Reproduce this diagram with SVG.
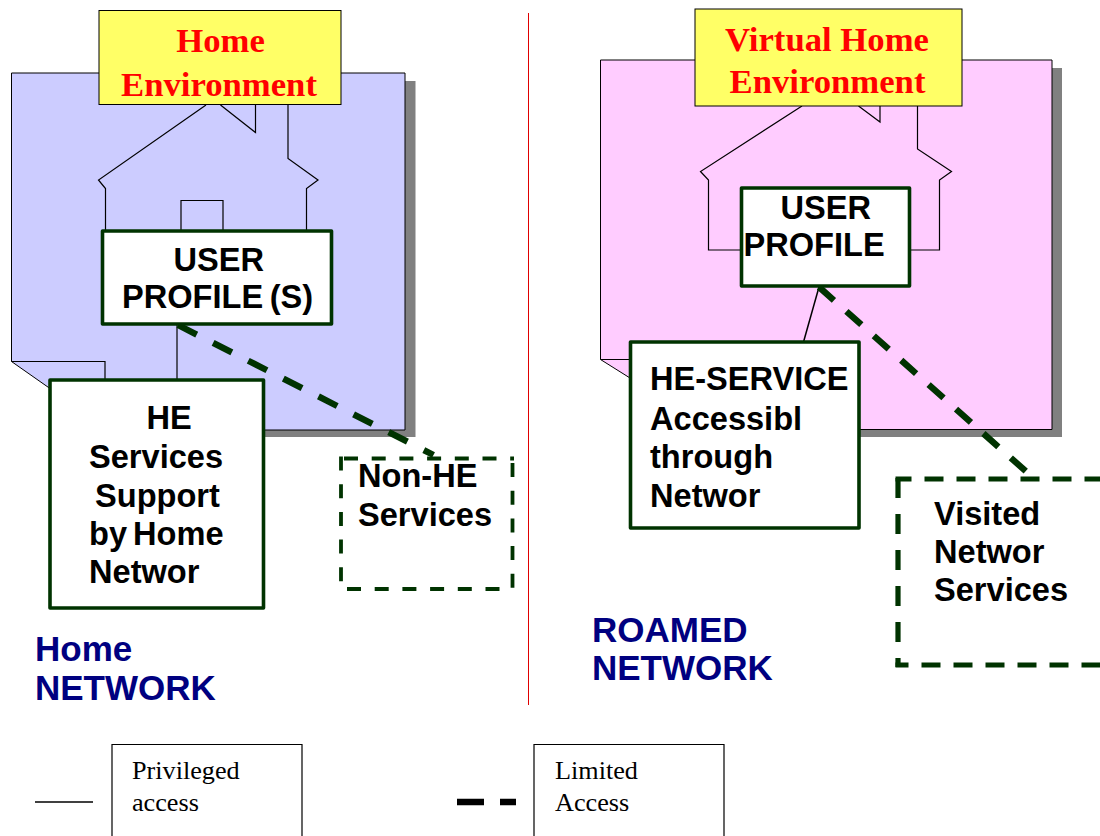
<svg xmlns="http://www.w3.org/2000/svg" width="1100" height="836" viewBox="0 0 1100 836">
<style>
.sheet{stroke:#000;stroke-width:1}
.shadow{fill:#808080}
.thin{fill:none;stroke:#000;stroke-width:1.2}
.env{fill:#ffff66;stroke:#000;stroke-width:1}
.envt{font-family:"Liberation Serif",serif;font-weight:700;font-size:34.7px;fill:#f00;text-anchor:middle}
.box{fill:#fff;stroke:#003300;stroke-width:3.6;stroke-linejoin:round}
.nd{fill:none;stroke:#003300;stroke-width:3.8}
.vd{fill:none;stroke:#003300;stroke-width:5.2}
.t{font-family:"Liberation Sans",sans-serif;font-weight:700;font-size:32.6px;fill:#000}
.net{font-family:"Liberation Sans",sans-serif;font-weight:700;font-size:35px;fill:#000080}
.leg{fill:#fff;stroke:#000;stroke-width:1.2}
.legt{font-family:"Liberation Serif",serif;font-size:26.2px;fill:#000}
.limited{fill:none;stroke:#003300;stroke-width:6.4}
</style>
<g id="home-sheet">
<path class="shadow" d="M405 81H415.500V437H264V430H405Z"/>
<path class="sheet" fill="#ccccff" d="M11.500 73H405V430H100V380H50V388.500L11.500 361.500Z"/>
<path class="thin" d="M11.500 361.500H105V380M206 105L98.500 180L105.500 188.500V231M220.500 105L255.500 132.500V105M288 105V158.500L318 180L306.500 188.500V231M181 231V200.500H223V231"/>
</g>
<g id="roamed-sheet">
<path class="shadow" d="M1052 68H1062V437H860V430H1052Z"/>
<path class="sheet" fill="#ffccff" d="M600.500 60H1052V429.500H700V342H630V378L600.500 359.500Z"/>
<path class="thin" d="M600.500 359.500H630M802 106L700.500 171.500L708.500 180V250H741M858.500 106L880 122V106M917.500 106V149L951.500 171.500L939.500 180V250H910"/>
</g>
<line id="divider" x1="528.500" y1="13" x2="528.500" y2="705" stroke="#e00000" stroke-width="1"/>
<g id="connectors">
<path fill="none" stroke="#000" stroke-width="1.200" d="M177 325V380"/>
<path fill="none" stroke="#000" stroke-width="1.500" d="M819 287L803.500 342"/>
<path class="limited" stroke-dasharray="21 18.400" d="M178 325L433.500 455"/>
<path class="limited" stroke-dasharray="20 16.700" d="M819 287L1030 475"/>
</g>
<g id="home-environment"><rect class="env" x="99" y="10.500" width="242" height="94"/><text class="envt"><tspan x="220.500" y="52">Home</tspan><tspan x="219" y="96">Environment</tspan></text></g>
<g id="virtual-home-environment"><rect class="env" x="695" y="9" width="267" height="97"/><text class="envt"><tspan x="827" y="51">Virtual Home</tspan><tspan x="827.500" y="93">Environment</tspan></text></g>
<g id="user-profile-home"><rect class="box" x="102.500" y="231" width="229" height="93"/><text class="t"><tspan x="173.500" y="271">USER</tspan><tspan x="122" y="308" word-spacing="-2.500">PROFILE (S)</tspan></text></g>
<g id="user-profile-roamed"><rect class="box" x="741.500" y="188" width="168" height="98"/><text class="t"><tspan x="780.500" y="219">USER</tspan><tspan x="743.500" y="256">PROFILE</tspan></text></g>
<g id="he-services"><rect class="box" x="50" y="380" width="213.500" height="228"/><text class="t"><tspan x="146.500" y="429">HE</tspan><tspan x="89" y="468">Services</tspan><tspan x="95" y="507">Support</tspan><tspan x="89" y="545" word-spacing="-3">by Home</tspan><tspan x="89" y="583">Networ</tspan></text></g>
<g id="he-service-accessible"><rect class="box" x="630.500" y="342" width="228.500" height="186"/><text class="t"><tspan x="650" y="390">HE-SERVICE</tspan><tspan x="650" y="430">Accessibl</tspan><tspan x="650" y="468">through</tspan><tspan x="650" y="507">Networ</tspan></text></g>
<g id="non-he-services"><path class="nd" stroke-dasharray="14 13.700" d="M344 458.500H514M341 456.500V590M347 589H513M512.500 463V589"/><text class="t"><tspan x="358" y="487">Non-HE</tspan><tspan x="358" y="526">Services</tspan></text></g>
<g id="visited-network-services"><path class="vd" stroke-dasharray="19 13" stroke-dashoffset="3" d="M895.500 479H1100"/><path class="vd" stroke-dasharray="20 16" d="M898 478V667"/><path class="vd" stroke-dasharray="19 13" stroke-dashoffset="6" d="M895.500 665H1100"/><text class="t"><tspan x="934" y="525">Visited</tspan><tspan x="934" y="563">Networ</tspan><tspan x="934" y="601">Services</tspan></text></g>
<g id="home-network-label"><text class="net"><tspan x="35" y="661">Home</tspan><tspan x="35" y="700">NETWORK</tspan></text></g>
<g id="roamed-network-label"><text class="net"><tspan x="592" y="642">ROAMED</tspan><tspan x="592" y="680">NETWORK</tspan></text></g>
<g id="legend-privileged"><line x1="35" y1="802" x2="93" y2="802" stroke="#000" stroke-width="1.500"/><path class="leg" d="M112 836V744.500H302V836"/><text class="legt"><tspan x="132" y="779">Privileged</tspan><tspan x="132" y="811">access</tspan></text></g>
<g id="legend-limited"><path fill="none" stroke="#000" stroke-width="6.500" d="M457 802H484M500 802H516"/><path class="leg" d="M534 836V744.500H724V836"/><text class="legt"><tspan x="555" y="779">Limited</tspan><tspan x="555" y="811">Access</tspan></text></g>
</svg>
